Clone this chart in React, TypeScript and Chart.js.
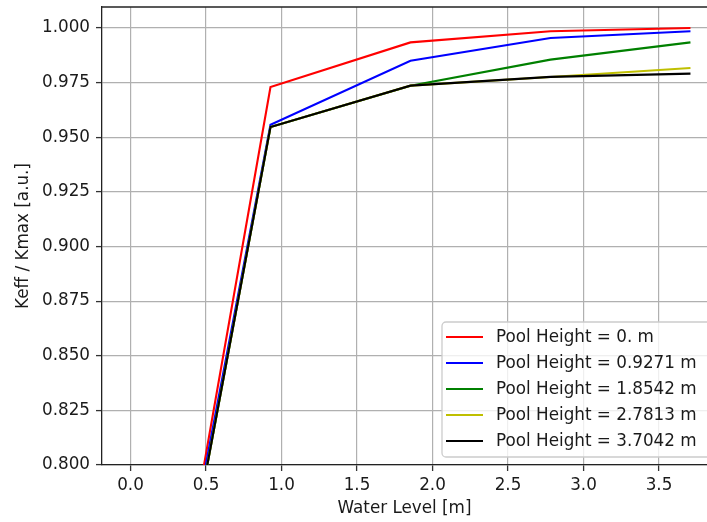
import React, { useEffect, useRef } from "react";
import { Chart, registerables } from "chart.js";

Chart.register(...registerables);

const waterLevel = [0, 0.9271, 1.8542, 2.7813, 3.7084];
const pool0 = [0.6086, 0.973, 0.9934, 0.9985, 1.0];
const pool09271 = [0.619, 0.9557, 0.985, 0.9954, 0.9985];
const pool18542 = [0.612, 0.9547, 0.9736, 0.9855, 0.9934];
const pool27813 = [0.612, 0.9547, 0.9736, 0.9776, 0.9817];
const pool37042 = [0.612, 0.9547, 0.9736, 0.9776, 0.9791];

const seriesLabels = [
  "Pool Height = 0. m",
  "Pool Height = 0.9271 m",
  "Pool Height = 1.8542 m",
  "Pool Height = 2.7813 m",
  "Pool Height = 3.7042 m",
];
const seriesColors = ["#ff0000", "#0000ff", "#008000", "#bfbf00", "#000000"];
const seriesValues = [pool0, pool09271, pool18542, pool27813, pool37042];

const xTicks = [0, 0.5, 1.0, 1.5, 2.0, 2.5, 3.0, 3.5];
const yTicks = [0.8, 0.825, 0.85, 0.875, 0.9, 0.925, 0.95, 0.975, 1.0];

const FONT = "'DejaVu Sans', sans-serif";
const FS = 16.8;
const TEXT = "#1a1a1a";

const framePlugin = {
  id: "frameAndLegend",
  afterDraw(chart: any) {
    const { ctx, chartArea } = chart;
    ctx.save();
    // top spine
    ctx.strokeStyle = "#222";
    ctx.lineWidth = 1.3;
    ctx.beginPath();
    ctx.moveTo(chartArea.left, chartArea.top);
    ctx.lineTo(chartArea.right, chartArea.top);
    ctx.stroke();

    // legend
    const ds = chart.data.datasets;
    const rowH = 26;
    const boxX = chartArea.left + 340;
    const boxH = rowH * ds.length + 5;
    const boxY = chartArea.bottom - 8 - boxH;
    const boxW = 300;
    const r = 4;
    ctx.beginPath();
    ctx.moveTo(boxX + r, boxY);
    ctx.lineTo(boxX + boxW - r, boxY);
    ctx.arcTo(boxX + boxW, boxY, boxX + boxW, boxY + r, r);
    ctx.lineTo(boxX + boxW, boxY + boxH - r);
    ctx.arcTo(boxX + boxW, boxY + boxH, boxX + boxW - r, boxY + boxH, r);
    ctx.lineTo(boxX + r, boxY + boxH);
    ctx.arcTo(boxX, boxY + boxH, boxX, boxY + boxH - r, r);
    ctx.lineTo(boxX, boxY + r);
    ctx.arcTo(boxX, boxY, boxX + r, boxY, r);
    ctx.closePath();
    ctx.fillStyle = "rgba(255,255,255,0.8)";
    ctx.fill();
    ctx.strokeStyle = "#cccccc";
    ctx.lineWidth = 1.3;
    ctx.stroke();

    ctx.font = `${FS}px ${FONT}`;
    ctx.textBaseline = "middle";
    ctx.textAlign = "left";
    ds.forEach((d: any, i: number) => {
      const y = boxY + 15 + i * rowH;
      ctx.strokeStyle = d.borderColor;
      ctx.lineWidth = 2;
      ctx.beginPath();
      ctx.moveTo(boxX + 4, y);
      ctx.lineTo(boxX + 41, y);
      ctx.stroke();
      ctx.fillStyle = TEXT;
      ctx.fillText(d.label, boxX + 54, y + 1);
    });
    ctx.restore();
  },
};

export default function App() {
  const ref = useRef<HTMLCanvasElement | null>(null);
  useEffect(() => {
    if (!ref.current) return;
    const chart = new Chart(ref.current, {
      type: "line",
      data: {
        datasets: seriesValues.map((vals, i) => ({
          label: seriesLabels[i],
          data: waterLevel.map((x, j) => ({ x, y: vals[j] })),
          borderColor: seriesColors[i],
          backgroundColor: seriesColors[i],
          borderWidth: 2.1,
          pointRadius: 0,
          tension: 0,
          fill: false,
          order: seriesValues.length - 1 - i,
        })),
      },
      options: {
        animation: false,
        responsive: false,
        layout: { padding: { left: 0, top: 7, right: 0, bottom: 0 } },
        plugins: {
          legend: { display: false },
          tooltip: { enabled: false },
        },
        scales: {
          x: {
            type: "linear",
            min: -0.1887,
            max: 3.818,
            afterBuildTicks: (s: any) => {
              s.ticks = xTicks.map((v) => ({ value: v }));
            },
            afterFit: (s: any) => {
              s.height = 57;
              s.paddingLeft = 0;
              s.paddingRight = 0;
              s.paddingTop = 0;
              s.paddingBottom = 0;
            },
            ticks: {
              callback: (v: any) => Number(v).toFixed(1),
              font: { family: FONT, size: FS },
              color: TEXT,
              padding: 5,
              maxRotation: 0,
              autoSkip: false,
            },
            grid: {
              color: "#b0b0b0",
              lineWidth: 1.2,
              drawTicks: true,
              tickLength: 6,
              tickColor: "#333",
              tickWidth: 1.3,
            },
            border: { display: true, color: "#222", width: 1.3 },
            title: {
              display: true,
              text: "Water Level [m]",
              font: { family: FONT, size: FS },
              color: TEXT,
              padding: { top: 0, bottom: 3 },
            },
          },
          y: {
            type: "linear",
            min: 0.8,
            max: 1.0096,
            afterBuildTicks: (s: any) => {
              s.ticks = yTicks.map((v) => ({ value: v }));
            },
            afterFit: (s: any) => {
              s.width = 102;
              s.paddingLeft = 0;
              s.paddingRight = 0;
              s.paddingTop = 0;
              s.paddingBottom = 0;
            },
            ticks: {
              callback: (v: any) => Number(v).toFixed(3),
              font: { family: FONT, size: FS },
              color: TEXT,
              padding: 6,
              autoSkip: false,
            },
            grid: {
              color: "#b0b0b0",
              lineWidth: 1.2,
              drawTicks: true,
              tickLength: 6,
              tickColor: "#333",
              tickWidth: 1.3,
            },
            border: { display: true, color: "#222", width: 1.3 },
            title: {
              display: true,
              text: "Keff / Kmax [a.u.]",
              font: { family: FONT, size: FS },
              color: TEXT,
              padding: { top: 14, bottom: 0 },
            },
          },
        },
      },
      plugins: [framePlugin],
    });
    return () => chart.destroy();
  }, []);
  return (
    <div
      style={{
        position: "fixed",
        left: 0,
        top: 0,
        width: 707,
        height: 522,
        overflow: "hidden",
        background: "#fff",
      }}
    >
      <canvas ref={ref} width={707} height={522} style={{ width: 707, height: 522 }} />
    </div>
  );
}
